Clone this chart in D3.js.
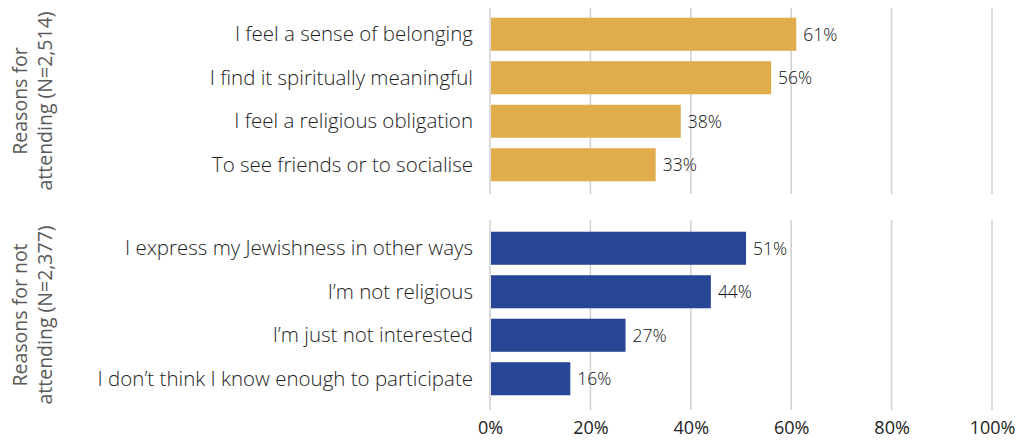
<!DOCTYPE html>
<html>
<head>
<meta charset="utf-8">
<script src="https://cdn.jsdelivr.net/npm/d3@7"></script>
<style>
  html, body { margin: 0; padding: 0; background: #fff; }
  svg { display: block; }
</style>
</head>
<body>
<svg id="chart" width="1022" height="444"></svg>
<script>
// Reasons for attending / not attending, share of respondents (%)
const attendReasons = [
  "I feel a sense of belonging",
  "I find it spiritually meaningful",
  "I feel a religious obligation",
  "To see friends or to socialise"
];
const attendValues = [61, 56, 38, 33];

const notAttendReasons = [
  "I express my Jewishness in other ways",
  "I\u2019m not religious",
  "I\u2019m just not interested",
  "I don\u2019t think I know enough to participate"
];
const notAttendValues = [51, 44, 27, 16];

const groupTitles = [
  ["Reasons for", "attending (N=2,514)"],
  ["Reasons for not", "attending (N=2,377)"]
];
const xTicks = [0, 20, 40, 60, 80, 100];

const svg = d3.select("#chart");
const x = d3.scaleLinear().domain([0, 100]).range([490, 992]);

const panels = [
  { cats: attendReasons, vals: attendValues, color: "#E1AC4A",
    grid: [8, 194], band: [12.5, 186.5], title: groupTitles[0] },
  { cats: notAttendReasons, vals: notAttendValues, color: "#274796",
    grid: [220, 410], band: [226.5, 400.5], title: groupTitles[1] }
];

panels.forEach(p => {
  const g = svg.append("g");
  const y = d3.scaleBand().domain(p.cats).range(p.band)
    .paddingInner(0.24).paddingOuter(0.12);

  // vertical gridlines
  g.selectAll("line.grid").data(xTicks).join("line")
    .attr("class", "grid")
    .attr("x1", d => x(d)).attr("x2", d => x(d))
    .attr("y1", p.grid[0]).attr("y2", p.grid[1])
    .attr("stroke", "#cfcfcf").attr("stroke-width", 1.5);

  const rows = p.cats.map((c, i) => ({ cat: c, val: p.vals[i] }));

  g.selectAll("rect").data(rows).join("rect")
    .attr("x", x(0) + 1)
    .attr("y", d => y(d.cat))
    .attr("width", d => x(d.val) - x(0) - 1)
    .attr("height", y.bandwidth())
    .attr("fill", p.color);

  // value labels
  g.selectAll("text.val").data(rows).join("text")
    .attr("class", "val")
    .attr("x", d => x(d.val) + 7)
    .attr("y", d => y(d.cat) + y.bandwidth() / 2)
    .attr("dy", "0.36em")
    .attr("font-family", "'Open Sans', sans-serif")
    .attr("font-weight", 300)
    .attr("font-size", 17.5)
    .attr("fill", "#111")
    .text(d => d.val + "%");

  // category labels
  g.selectAll("text.cat").data(rows).join("text")
    .attr("class", "cat")
    .attr("x", 473)
    .attr("y", d => y(d.cat) + y.bandwidth() / 2)
    .attr("dy", "0.35em")
    .attr("text-anchor", "end")
    .attr("font-family", "'Open Sans', sans-serif")
    .attr("font-weight", 300)
    .attr("font-size", 20.5)
    .attr("fill", "#1e1e1e")
    .text(d => d.cat);

  // rotated group title
  const cy = (p.grid[0] + p.grid[1]) / 2;
  const t = g.append("text")
    .attr("transform", `translate(0,${cy}) rotate(-90)`)
    .attr("text-anchor", "middle")
    .attr("font-family", "'Open Sans', sans-serif")
    .attr("font-size", 19.5)
    .attr("fill", "#595959");
  t.append("tspan").attr("x", 0).attr("y", 27).text(p.title[0]);
  t.append("tspan").attr("x", 0).attr("y", 52).text(p.title[1]);
});

// bottom axis labels
const axis = d3.axisBottom(x).tickValues(xTicks)
  .tickFormat(d => d + "%").tickSize(0).tickPadding(0);
const ax = svg.append("g").attr("transform", "translate(0,421)").call(axis);
ax.select(".domain").remove();
ax.selectAll("text")
  .attr("font-family", "'Open Sans', sans-serif")
  .attr("font-size", 18)
  .attr("fill", "#222");
</script>
</body>
</html>
